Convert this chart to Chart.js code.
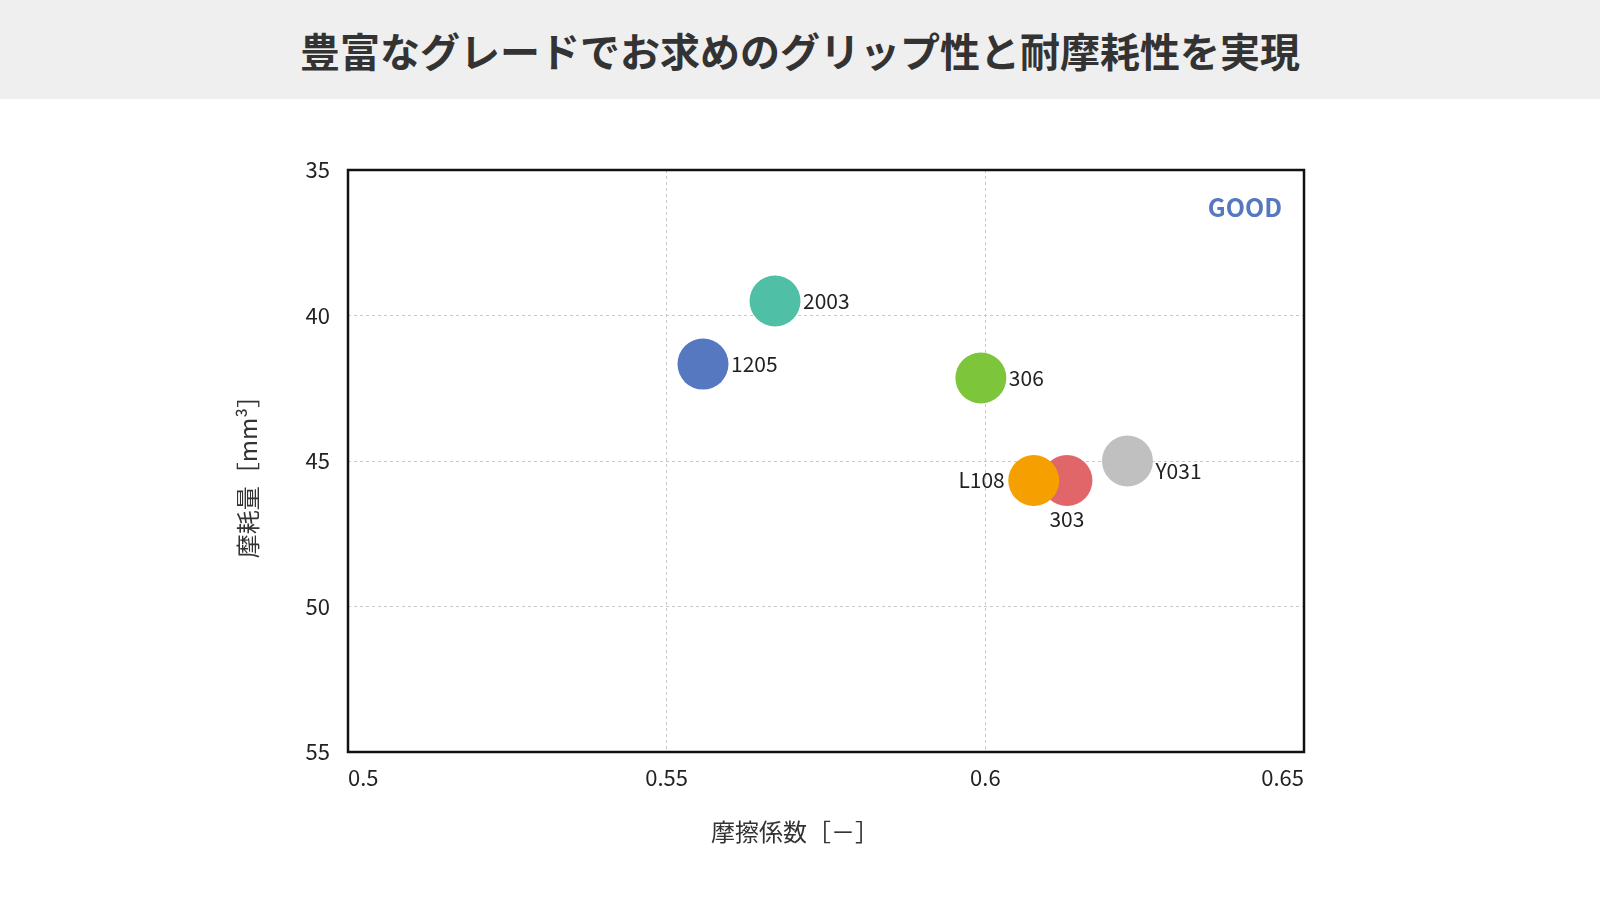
<!DOCTYPE html>
<html><head><meta charset="utf-8">
<script src="https://cdn.jsdelivr.net/npm/chart.js@4"></script>
<style>
html,body{margin:0;padding:0;background:#fff;font-family:"Noto Sans CJK JP","Noto Sans",sans-serif;}
#title{position:absolute;left:0;top:0;width:1600px;height:99px;background:#efefef;display:flex;align-items:center;justify-content:center;font-size:40px;font-weight:bold;color:#333;}
#wrap{position:absolute;left:0;top:99px;width:1600px;height:801px;}
</style></head><body>
<div id="title">豊富なグレードでお求めのグリップ性と耐摩耗性を実現</div>
<div id="wrap"><canvas id="c" width="1600" height="801"></canvas></div>
<script>
const names=["1205","2003","306","L108","303","Y031"];
const friction=[0.5557,0.567,0.5993,0.6076,0.6128,0.6223];
const wear=[41.67,39.5,42.15,45.67,45.67,45.0];
const colors=["#5578c0","#4fbfa5","#7dc63c","#f5a000","#e0666a","#c0c0c0"];
const labelPos=["right","right","right","left","below","right"];
const xTicks=[0.5,0.55,0.6,0.65];
const yTicks=[35,40,45,50,55];
const font='"Noto Sans CJK JP","Noto Sans",sans-serif';
const datasets=names.map((n,i)=>({label:n,data:[{x:friction[i],y:wear[i]}],backgroundColor:colors[i],borderWidth:0,pointRadius:25.5,pointHoverRadius:25.5}));
const deco={id:'deco',afterDatasetsDraw(ch){
 const c=ch.ctx,a=ch.chartArea;
 c.save();
 c.font='21px '+font;c.fillStyle='#222';c.textBaseline='middle';
 ch.data.datasets.forEach((d,i)=>{const p=ch.getDatasetMeta(i).data[0];
  if(labelPos[i]==='right'){c.textAlign='left';c.fillText(names[i],p.x+28,p.y+(i===5?10:0));}
  else if(labelPos[i]==='left'){c.textAlign='right';c.fillText(names[i],p.x-29,p.y);}
  else{c.textAlign='center';c.fillText(names[i],p.x,p.y+39);}
 });
 c.strokeStyle='#111';c.lineWidth=2.5;c.strokeRect(a.left,a.top,a.right-a.left,a.bottom-a.top);
 c.font='bold 25px '+font;c.fillStyle='#5578c0';c.textAlign='right';c.fillText('GOOD',a.right-22,a.top+37);
 c.fillStyle='#333';c.font='24px '+font;c.textAlign='center';
 c.fillText('摩擦係数［－］',795,733);
 c.translate(248,(a.top+a.bottom)/2+10);c.rotate(-Math.PI/2);c.fillText('摩耗量［mm³］',0,0);
 c.restore();}};
new Chart(document.getElementById('c'),{type:'scatter',data:{datasets},plugins:[deco],
options:{responsive:false,animation:false,events:[],
 layout:{padding:{top:71,right:296,left:0,bottom:0}},
 plugins:{legend:{display:false},tooltip:{enabled:false}},
 scales:{
  x:{min:0.5,max:0.65,afterBuildTicks(s){s.ticks=xTicks.map(v=>({value:v}));},
   afterFit(s){s.height=148;},
   grid:{color:'#c8c8c8',drawTicks:false},border:{display:false,dash:[3,3]},
   ticks:{padding:12,align:'inner',color:'#222',font:{size:22,family:font},callback:v=>String(v)}},
  y:{reverse:true,min:35,max:55,afterBuildTicks(s){s.ticks=yTicks.map(v=>({value:v}));},
   afterFit(s){s.width=348;},
   grid:{color:'#c8c8c8',drawTicks:false},border:{display:false,dash:[3,3]},
   ticks:{padding:18,align:'inner',color:'#222',font:{size:22,family:font},callback:v=>String(v)}}
 }}});
</script></body></html>
